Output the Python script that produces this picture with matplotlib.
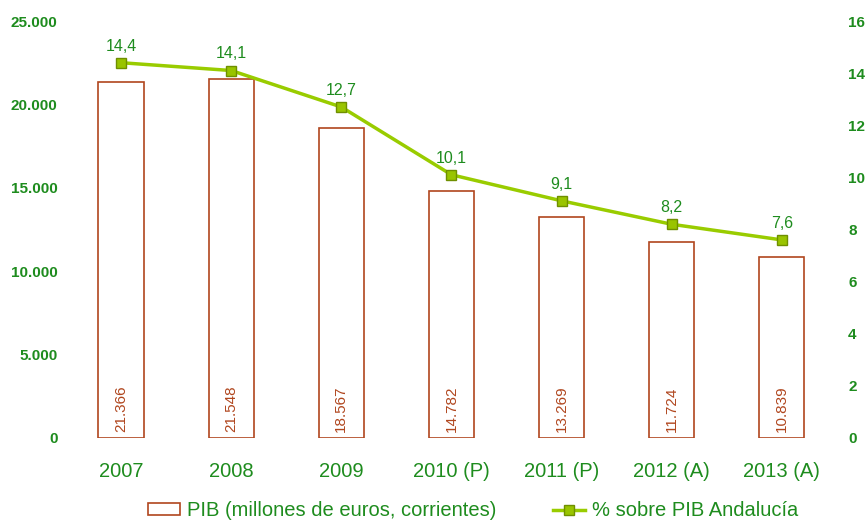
import numpy as np
import matplotlib.pyplot as plt

years = ["2007", "2008", "2009", "2010 (P)", "2011 (P)", "2012 (A)", "2013 (A)"]
pib = [21366, 21548, 18567, 14782, 13269, 11724, 10839]
pct = [14.4, 14.1, 12.7, 10.1, 9.1, 8.2, 7.6]

green = "#1e8c1e"
bar_edge = "#b0461e"
line_col = "#99cc00"

plt.rcParams["font.family"] = ["Liberation Sans", "DejaVu Sans"]

fig = plt.figure(figsize=(8.66, 5.2), dpi=100)
ax = fig.add_axes([0.0762, 0.1577, 0.8903, 0.8019])
x = np.arange(len(years))

bars = ax.bar(x, pib, width=0.41, facecolor="white", edgecolor=bar_edge,
              linewidth=1.2, label="PIB (millones de euros, corrientes)", zorder=2)
for xi, v in zip(x, pib):
    ax.text(xi, 350, f"{v:,}".replace(",", "."), rotation=90, ha="center",
            va="bottom", color=bar_edge, fontsize=11, zorder=3)

ax.set_xlim(-0.5, len(years) - 0.5)
ax.set_ylim(0, 25000)
ax.set_yticks(np.arange(0, 25001, 5000))
ax.set_yticklabels([f"{v:,}".replace(",", ".") if v else "0" for v in range(0, 25001, 5000)],
                   fontweight="bold", color=green, fontsize=11)
ax.set_xticks(x)
ax.set_xticklabels(years, color=green, fontsize=14.5)
ax.tick_params(axis="both", length=0)
ax.tick_params(axis="x", pad=17)
ax.tick_params(axis="y", pad=6)
for s in ax.spines.values():
    s.set_visible(False)

ax2 = ax.twinx()
ln, = ax2.plot(x, pct, color=line_col, linewidth=2.5, marker="s", markersize=7,
               markerfacecolor="#99c400", markeredgecolor="#6f8f00",
               label="% sobre PIB Andalucía", zorder=4)
for xi, v in zip(x, pct):
    ax2.text(xi, v + 0.35, f"{v:.1f}".replace(".", ","), ha="center", va="bottom",
             color=green, fontsize=11.5)
ax2.set_ylim(0, 16)
ax2.set_yticks(np.arange(0, 17, 2))
ax2.set_yticklabels([str(v) for v in range(0, 17, 2)], fontweight="bold",
                    color=green, fontsize=11)
ax2.tick_params(axis="y", length=0, pad=8)
for s in ax2.spines.values():
    s.set_visible(False)

fig.legend([bars, ln], [bars.get_label(), ln.get_label()], loc="lower center",
           bbox_to_anchor=(0.546, -0.035), ncol=2, frameon=False, fontsize=14.5,
           labelcolor=green, columnspacing=2.8, handlelength=1.6,
           handleheight=0.5, handletextpad=0.35)

fig.savefig("out.png", dpi=100)
